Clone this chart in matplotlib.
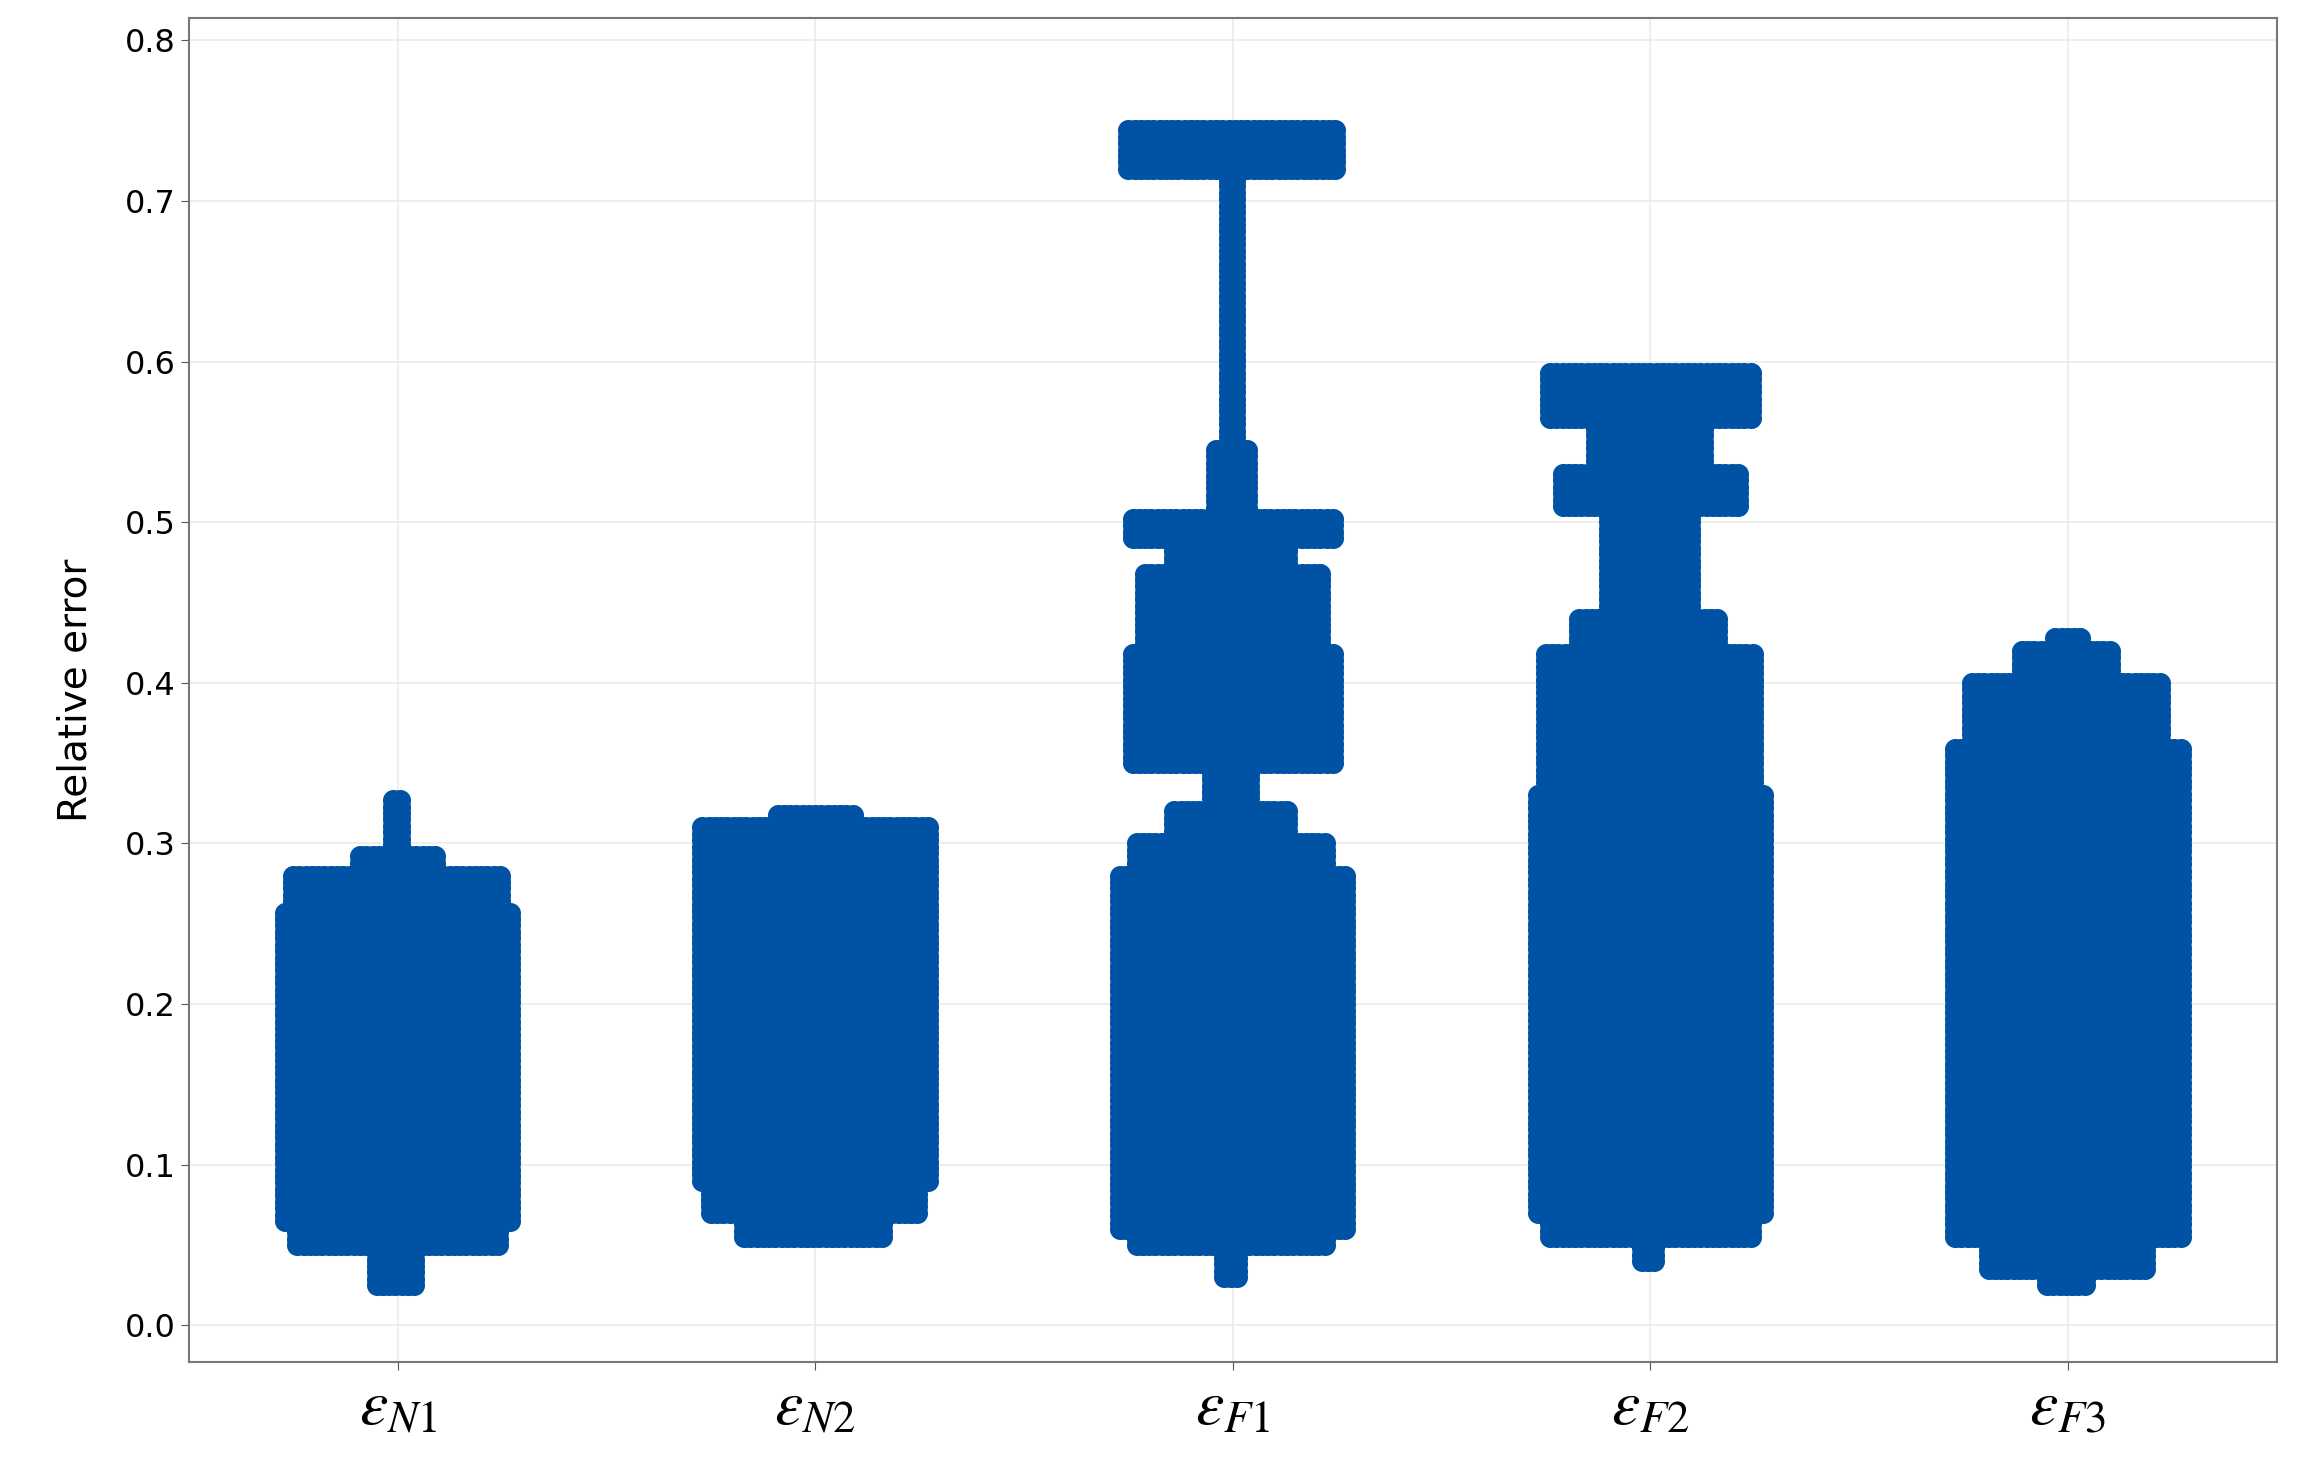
# Relative error swarm chart
import numpy as np
import matplotlib.pyplot as plt

plt.rcParams['mathtext.fontset'] = 'stix'

categories = [r'$\varepsilon_{N1}$', r'$\varepsilon_{N2}$', r'$\varepsilon_{F1}$',
              r'$\varepsilon_{F2}$', r'$\varepsilon_{F3}$']

# shape of each swarm: (y from, y to, half width in category units)
n1_profile = [(0.025, 0.045, 0.05), (0.050, 0.065, 0.24), (0.065, 0.26, 0.27),
              (0.26, 0.28, 0.25), (0.28, 0.295, 0.09), (0.295, 0.33, 0.01)]
n2_profile = [(0.055, 0.070, 0.17), (0.070, 0.090, 0.25), (0.090, 0.31, 0.27),
              (0.31, 0.32, 0.09)]
f1_profile = [(0.030, 0.045, 0.02), (0.050, 0.060, 0.23), (0.060, 0.28, 0.27),
              (0.28, 0.30, 0.23), (0.30, 0.32, 0.14), (0.32, 0.35, 0.05),
              (0.35, 0.42, 0.24), (0.42, 0.47, 0.21), (0.47, 0.49, 0.14),
              (0.49, 0.505, 0.24), (0.505, 0.545, 0.04), (0.545, 0.72, 0.01),
              (0.72, 0.745, 0.25)]
f2_profile = [(0.040, 0.050, 0.02), (0.055, 0.070, 0.24), (0.070, 0.33, 0.27),
              (0.33, 0.42, 0.25), (0.42, 0.44, 0.17), (0.44, 0.51, 0.10),
              (0.51, 0.53, 0.21), (0.53, 0.565, 0.13), (0.565, 0.595, 0.24)]
f3_profile = [(0.025, 0.035, 0.05), (0.035, 0.055, 0.19), (0.055, 0.36, 0.27),
              (0.36, 0.40, 0.23), (0.40, 0.42, 0.11), (0.42, 0.43, 0.03)]
profiles = [n1_profile, n2_profile, f1_profile, f2_profile, f3_profile]

yticks = [0.0, 0.1, 0.2, 0.3, 0.4, 0.5, 0.6, 0.7, 0.8]
color = '#0052A5'

fig = plt.figure(figsize=(23.02, 14.84), dpi=100)
ax = fig.add_axes([0.082, 0.082, 0.907, 0.906])

dx, dy = 0.015, 0.004
for i, prof in enumerate(profiles):
    xs, ys = [], []
    for lo, hi, hw in prof:
        for y in np.arange(lo, hi + 1e-9, dy):
            for x in np.arange(-hw, hw + 1e-9, dx):
                xs.append(i + 1 + x)
                ys.append(y)
    ax.scatter(xs, ys, s=230, color=color, linewidths=0, zorder=3)

ax.set_xlim(0.5, 5.5)
ax.set_ylim(-0.023, 0.814)
ax.set_xticks(range(1, 6))
ax.set_xticklabels(categories, fontsize=46)
ax.set_yticks(yticks)
ax.set_yticklabels(['%.1f' % v for v in yticks], fontsize=23)
ax.set_ylabel('Relative error', fontsize=28, labelpad=22)
ax.grid(True, color='#ebebeb', linewidth=1.2, zorder=0)
for s in ax.spines.values():
    s.set_color('#777777')
    s.set_linewidth(1.5)
ax.tick_params(color='#555555', length=6)

fig.savefig('out.png', dpi=100)
